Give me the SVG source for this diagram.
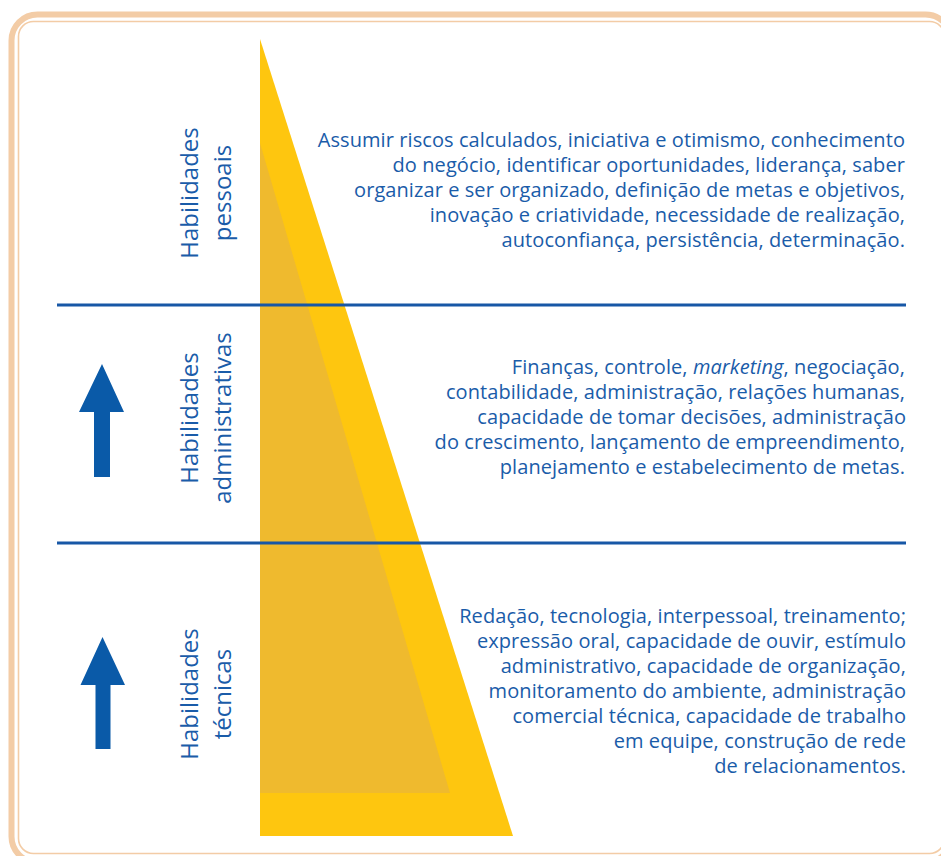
<svg xmlns="http://www.w3.org/2000/svg" width="941" height="856" viewBox="0 0 941 856">
<style>
.t{font-family:"Open Sans","Noto Sans","Liberation Sans",sans-serif;font-size:20px;letter-spacing:0.08px;fill:#1A5CA9;text-anchor:end}
.lbl{font-family:"Open Sans","Noto Sans","Liberation Sans",sans-serif;font-size:24px;fill:#1A5CA9;text-anchor:middle}
.rule{stroke:#1757A6;stroke-width:3}
.arrow{fill:#0A5AA8}
</style>
<rect width="941" height="856" fill="#FFFFFF"/>
<g id="frame" fill="none" stroke="#F3CCA6">
<rect x="11.5" y="14.5" width="940" height="848" rx="26" stroke-width="6"/>
<rect x="18.5" y="21.5" width="926" height="832" rx="15" stroke-width="1.6"/>
</g>
<g id="pyramid">
<polygon points="260,39 513,836 260,836" fill="#FEC60F"/>
<polygon points="260,143 450,793 260,793" fill="#EFBA2E"/>
</g>
<g id="rules">
<line class="rule" x1="57" y1="305" x2="906" y2="305"/>
<line class="rule" x1="57" y1="543" x2="906" y2="543"/>
</g>
<g id="connectors">
<polygon class="arrow" points="102,364 124,412 110,412 110,477 94,477 94,412 79,412"/>
<polygon class="arrow" points="102.5,637 125,685 110.5,685 110.5,749 95.5,749 95.5,685 80.5,685"/>
</g>
<g id="label-pessoais">
<text class="lbl" transform="translate(198,193) rotate(-90)">Habilidades</text>
<text class="lbl" transform="translate(231,193) rotate(-90)">pessoais</text>
</g>
<g id="label-administrativas">
<text class="lbl" transform="translate(198,418) rotate(-90)">Habilidades</text>
<text class="lbl" transform="translate(231,418) rotate(-90)">administrativas</text>
</g>
<g id="label-tecnicas">
<text class="lbl" transform="translate(198,694) rotate(-90)">Habilidades</text>
<text class="lbl" transform="translate(231,694) rotate(-90)">técnicas</text>
</g>
<g id="text-pessoais">
<text class="t" x="905" y="147">Assumir riscos calculados, iniciativa e otimismo, conhecimento</text>
<text class="t" x="905" y="172">do negócio, identificar oportunidades, liderança, saber</text>
<text class="t" x="905" y="197">organizar e ser organizado, definição de metas e objetivos,</text>
<text class="t" x="905" y="222">inovação e criatividade, necessidade de realização,</text>
<text class="t" x="905" y="247">autoconfiança, persistência, determinação.</text>
</g>
<g id="text-administrativas">
<text class="t" x="905" y="374">Finanças, controle, <tspan font-style="italic">marketing</tspan>, negociação,</text>
<text class="t" x="905" y="399">contabilidade, administração, relações humanas,</text>
<text class="t" x="906" y="424">capacidade de tomar decisões, administração</text>
<text class="t" x="905" y="449">do crescimento, lançamento de empreendimento,</text>
<text class="t" x="905" y="474">planejamento e estabelecimento de metas.</text>
</g>
<g id="text-tecnicas">
<text class="t" x="906" y="623">Redação, tecnologia, interpessoal, treinamento;</text>
<text class="t" x="906" y="648">expressão oral, capacidade de ouvir, estímulo</text>
<text class="t" x="906" y="673">administrativo, capacidade de organização,</text>
<text class="t" x="906" y="698">monitoramento do ambiente, administração</text>
<text class="t" x="906" y="723">comercial técnica, capacidade de trabalho</text>
<text class="t" x="906" y="748">em equipe, construção de rede</text>
<text class="t" x="906" y="773">de relacionamentos.</text>
</g>
</svg>
